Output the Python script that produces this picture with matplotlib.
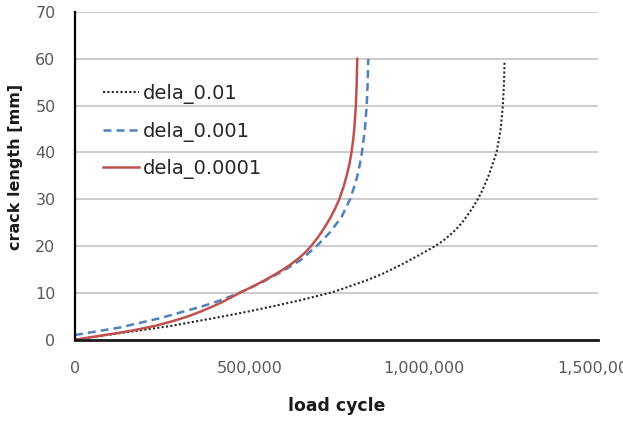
import matplotlib
matplotlib.use("Agg")
import matplotlib.pyplot as plt
from matplotlib.ticker import FuncFormatter

plt.rcParams['font.family'] = ['DejaVu Sans']

# load cycle values (thousands) and crack length [mm]
n_001 = [0, 129, 272, 416, 502, 559, 645, 741, 837, 880, 935, 985, 1033, 1053, 1070,
         1085, 1098, 1110, 1120, 1139, 1155, 1169, 1186, 1209, 1221, 1227, 1230.5, 1232]
a_001 = [0, 1.4, 2.9, 4.85, 6.1, 7.0, 8.4, 10.2, 12.7, 14, 16, 18, 20, 21, 22,
         23, 24, 25, 26, 28, 30, 32, 35, 40, 45, 50, 55, 59.4]

n_0001 = [0, 72, 129, 186, 244, 306, 368, 425, 483, 540, 590, 645, 693, 731, 765,
          789, 800, 810, 817, 823, 831.5, 836.5, 839.5, 841]
a_0001 = [1.0, 1.9, 2.6, 3.6, 4.6, 5.9, 7.2, 8.6, 10.4, 12.4, 14.4, 16.9, 20, 22.9, 26.3,
          30, 32.5, 35, 37.5, 40, 45, 50, 55, 60]

n_00001 = [0, 43, 85, 129, 168, 232, 282, 325, 360, 392, 421, 447, 472, 500, 526.5,
           551.5, 575, 597, 617, 635, 651, 665, 677, 698, 716, 732, 746, 758, 769.5, 779,
           787, 793, 797.5, 801, 805.5, 808, 809.5]
a_00001 = [0, 0.5, 1, 1.5, 2, 3, 4, 5, 6, 7, 8, 9, 10, 11, 12,
           13, 14, 15, 16, 17, 18, 19, 20, 22, 24, 26, 28, 30, 32.5, 35,
           37.5, 40, 42.5, 45, 50, 55, 60]

labels = ['dela_0.01', 'dela_0.001', 'dela_0.0001']
x_ticks = [0, 500000, 1000000, 1500000]
y_ticks = [0, 10, 20, 30, 40, 50, 60, 70]

W, H = 623, 424
fig = plt.figure(figsize=(W / 100, H / 100), dpi=100)
ax_l, ax_r, ax_t, ax_b = 75, 598, 12, 339.7
ax = fig.add_axes([ax_l / W, (H - ax_b) / H, (ax_r - ax_l) / W, (ax_b - ax_t) / H])
aw, ah = ax_r - ax_l, ax_b - ax_t

def k(vals):
    return [v * 1000 for v in vals]

ax.plot(k(n_001), a_001, color='#262626', lw=1.5, linestyle=(0, (1, 1.1)),
        dash_capstyle='butt', label=labels[0])
ax.plot(k(n_0001), a_0001, color='#4F81BD', lw=1.8, linestyle=(0, (3.2, 2.0)),
        label=labels[1])
ax.plot(k(n_00001), a_00001, color='#C0504D', lw=1.8, label=labels[2])

ax.set_xlim(0, 1500000)
ax.set_ylim(0, 70)
ax.set_xticks(x_ticks)
ax.set_yticks(y_ticks)
ax.xaxis.set_major_formatter(FuncFormatter(lambda v, p: f"{int(v):,}"))
ax.tick_params(axis='both', length=0, labelsize=11.5, labelcolor='#595959')
ax.tick_params(axis='y', pad=14)
ax.tick_params(axis='x', pad=15)

ax.grid(axis='y', color='#BFBFBF', lw=1.1)
ax.set_axisbelow(True)
for s in ['top', 'right']:
    ax.spines[s].set_visible(False)
ax.spines['left'].set_linewidth(1.6)
ax.spines['bottom'].set_linewidth(2.0)
ax.spines['left'].set_color('black')
ax.spines['bottom'].set_color('#1a1a1a')

ax.set_xlabel('load cycle', fontsize=12.4, fontweight='bold', color='#1a1a1a')
ax.set_ylabel('crack length [mm]', fontsize=11.5, fontweight='bold', color='#1a1a1a')
ax.xaxis.set_label_coords(0.5, (ax_b - 397) / ah)
ax.yaxis.set_label_coords((23 - ax_l) / aw, (ax_b - 167) / ah)

leg = ax.legend(loc='upper left', bbox_to_anchor=((103 - ax_l) / aw, (ax_b - 84) / ah),
                frameon=False, fontsize=14, handlelength=1.86, handletextpad=0.2,
                labelspacing=0.9, borderaxespad=0, borderpad=0)
for t in leg.get_texts():
    t.set_color('#262626')

fig.savefig('out.png', dpi=100)
